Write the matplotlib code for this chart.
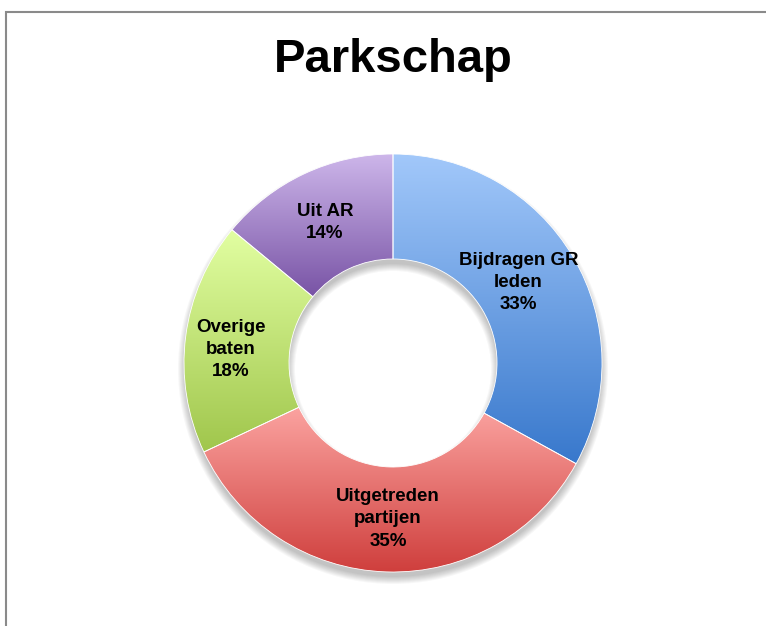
import numpy as np
import matplotlib

matplotlib.use("Agg")
import matplotlib.pyplot as plt
from matplotlib.colors import LinearSegmentedColormap
from matplotlib.patches import Rectangle, Wedge

plt.rcParams["font.family"] = ["Liberation Sans", "DejaVu Sans"]

# data
labels = ["Bijdragen GR\nleden", "Uitgetreden\npartijen", "Overige\nbaten", "Uit AR"]
shares = [33, 35, 18, 14]
# gradient colours per slice: (top, bottom)
colors = [("#a2c8fa", "#3878cc"), ("#fba3a0", "#cf3f3d"),
          ("#e2ffa2", "#a0c64c"), ("#cdb6ea", "#7853a5")]

W, H = 766, 626
fig = plt.figure(figsize=(W / 100, H / 100), dpi=100)
ax = fig.add_axes([0, 0, 1, 1])
ax.set_xlim(0, W)
ax.set_ylim(0, H)
ax.set_aspect("equal")
ax.axis("off")

cx, cy = 393, H - 363
R, r_in = 209, 104

# soft shadow under the ring
for k in range(8):
    ax.add_patch(Wedge((cx, cy - 6), R + 6 - k, 0, 360, width=R - r_in + 12 - 2 * k,
                       facecolor="#000000", alpha=0.03, linewidth=0, zorder=0.5))

wedges, _ = ax.pie(shares, radius=R, center=(cx, cy), startangle=90, counterclock=False,
                   wedgeprops=dict(width=R - r_in, facecolor="none", edgecolor="white",
                                   linewidth=0.6))
ax.set_xlim(0, W)
ax.set_ylim(0, H)

grad = np.linspace(0, 1, 256).reshape(-1, 1)
for w, (top, bot) in zip(wedges, colors):
    w.set_zorder(2)
    ext = w.get_path().get_extents()
    cmap = LinearSegmentedColormap.from_list("g", [top, bot])
    im = ax.imshow(grad, cmap=cmap, aspect="auto", origin="upper",
                   extent=[ext.x0, ext.x1, ext.y0, ext.y1], zorder=1, interpolation="bilinear")
    im.set_clip_path(w)

# label placement (radius, angle nudge in degrees)
label_pos = [(149, 2.0), (156, 0.0), (163, 2.5), (156, 0.7)]
for w, lab, s, (lr, da) in zip(wedges, labels, shares, label_pos):
    mid = np.deg2rad((w.theta1 + w.theta2) / 2 + da)
    x = cx + lr * np.cos(mid)
    y = cy + lr * np.sin(mid)
    ax.text(x, y, f"{lab}\n{s}%", ha="center", va="center", fontsize=13.5,
            fontweight="bold", linespacing=1.4, zorder=3)

ax.text(cx, H - 60, "Parkschap", ha="center", va="center", fontsize=34,
        fontweight="bold", zorder=3)

# chart frame (cut off at right and bottom)
fig.patches.append(Rectangle((6 / W, -0.1), 1.2, (H - 12) / H + 0.1, transform=fig.transFigure,
                             fill=False, edgecolor="#8a8a8a", linewidth=1.5))

fig.savefig("out.png", dpi=100, facecolor="white")
